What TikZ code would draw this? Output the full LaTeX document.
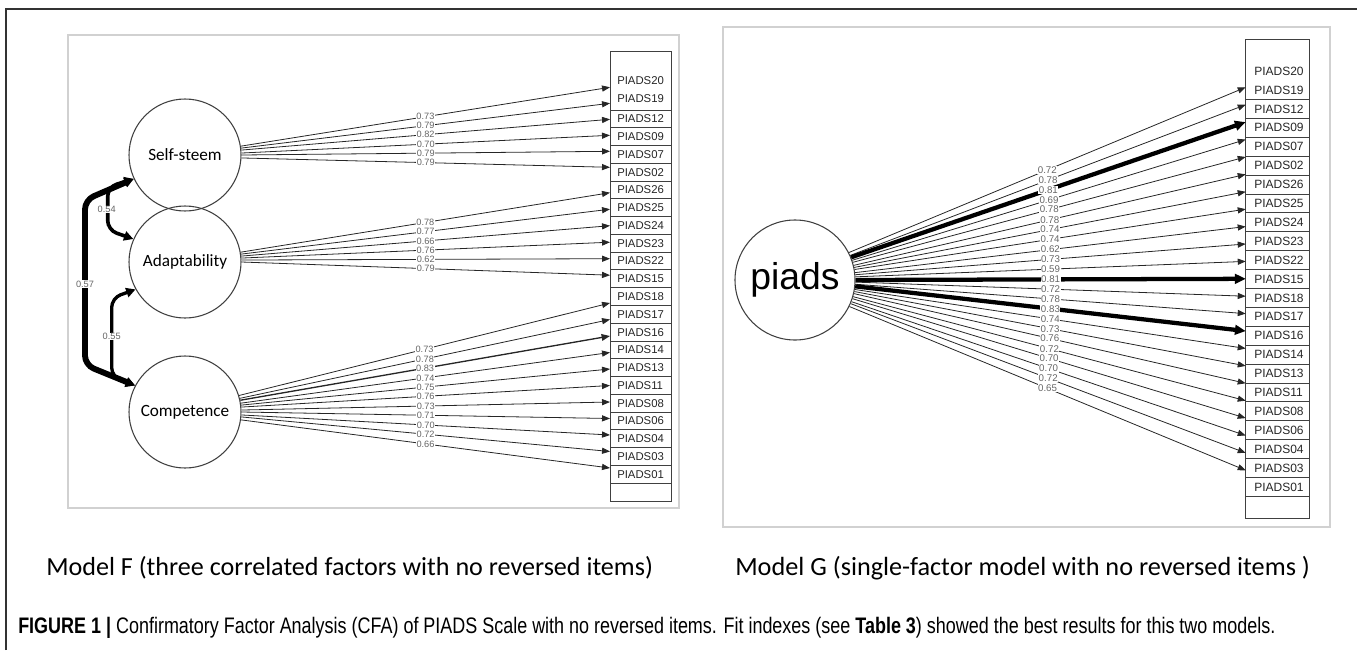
\documentclass[tikz,border=0pt]{standalone}
\usepackage{fontspec}
\usepackage{graphicx}
\setmainfont{Liberation Sans}
\newfontfamily\calib{Carlito}
\newfontfamily\capfont[FakeStretch=0.8]{Liberation Sans}
\usetikzlibrary{arrows.meta,calc}
\begin{document}
\begin{tikzpicture}[x=0.75pt,y=-0.75pt,
  lat/.style={circle,draw=black!75,line width=0.8pt,minimum size=84pt,inner sep=0pt,font=\calib\fontsize{12.9}{14}\selectfont},
  cellL/.style={rectangle,draw=black!75,line width=0.7pt,minimum width=45.75pt,minimum height=13.33pt,inner sep=0pt},
  cellR/.style={rectangle,draw=black!75,line width=0.7pt,minimum width=47.5pt,minimum height=14.18pt,inner sep=0pt},
  itemL/.style={anchor=west,inner sep=0pt,text=black!85,font=\fontsize{8.5}{9}\selectfont},
  itemR/.style={anchor=west,inner sep=0pt,text=black!85,font=\fontsize{9}{10}\selectfont},
  load/.style={draw=black!85,line width=0.6pt,-{Triangle[length=5.5pt 0.8,width=4pt 1]}},
  labL/.style={fill=white,inner sep=0.4pt,text=black!60,font=\fontsize{6.9}{7}\selectfont},
  labR/.style={fill=white,inner sep=0.4pt,text=black!60,font=\fontsize{7.3}{7.5}\selectfont},
  cov/.style={draw=black,rounded corners=7pt,{Triangle[length=7pt,width=7pt]}-{Triangle[length=7pt,width=7pt]}},
  panel/.style={draw=black!18,line width=0.8pt},
  plain/.style={inner sep=0pt}
]
\useasboundingbox (0,0) rectangle (1357,650);
% outer frame (left and top)
\draw[draw=black!80,line width=1pt] (6,650) -- (6,9) -- (1357,9);
% panels
\draw[panel] (68,35) rectangle (679,508);
\draw[panel] (723,27) rectangle (1330,527);

% ---------------- Model F ----------------
\node[lat] (ss) at (185,155) {Self-steem};
\node[lat] (ad) at (185,262) {Adaptability};
\node[lat] (co) at (185,412) {Competence};

% item column left
\node[cellL,minimum height=44.25pt] (Ltop) at (640.5,80.5) {};
\node[itemL] (L20) at (617,81) {PIADS20};
\node[itemL] (L19) at (617,99) {PIADS19};
\foreach \t [count=\k from 0] in {12,09,07,02,26,25,24,23,22,15,18,17,16,14,13,11,08,06,04,03,01} {
  \pgfmathsetmacro\yc{110+17.77*(\k+0.5)}
  \node[cellL] (Lc\t) at (640.5,\yc) {};
  \node[itemL] (L\t) at (617,\yc) {PIADS\t};
}
\node[cellL] (Lempty) at (640.5,492.1) {};

% loadings Self-steem
\foreach \v [count=\i from 0] in {0.73,0.79,0.82,0.70,0.79,0.79} {
  \pgfmathtruncatemacro\ang{mod(round(asin((9-2.3*\i)/56))+360,360)}
  \pgfmathsetmacro\ye{87.3+16*\i}
  \coordinate (sE\i) at (610,\ye);
  \draw[load] (ss.\ang) -- node[labL]{\v} (sE\i);
}
% loadings Adaptability
\foreach \v [count=\i from 0] in {0.78,0.77,0.66,0.76,0.62,0.79} {
  \pgfmathtruncatemacro\ang{mod(round(asin((9.3-1.8*\i)/56))+360,360)}
  \pgfmathsetmacro\ye{192.7+16.5*\i}
  \coordinate (aE\i) at (610,\ye);
  \draw[load] (ad.\ang) -- node[labL]{\v} (aE\i);
}
% loadings Competence
\foreach \v [count=\i from 0] in {0.73,0.78,0.83,0.74,0.75,0.76,0.73,0.71,0.70,0.72,0.66} {
  \pgfmathtruncatemacro\ang{mod(round(asin((16.4-2.4*\i)/56))+360,360)}
  \pgfmathsetmacro\ye{303+16.5*\i}
  \pgfmathsetmacro\lw{(\i==2)?1.0:0.6}
  \coordinate (cE\i) at (610,\ye);
  \draw[load,line width=\lw pt] (co.\ang) -- node[labL]{\v} (cE\i);
}

% covariances
\coordinate (k57a) at (85,200);
\coordinate (k57b) at (85,365);
\coordinate (k54a) at (107.7,187);
\coordinate (k54b) at (107.7,230);
\coordinate (k55a) at (111.7,298);
\coordinate (k55b) at (111.7,377);
\draw[cov,line width=4.4pt] (ss.205) -- (k57a) -- (k57b) -- (co.152);
\draw[cov,line width=2.7pt] (ss.205) -- (k54a) -- (k54b) -- (ad.156);
\draw[cov,line width=2.5pt] (ad.209) -- (k55a) -- (k55b) -- (co.152);
\node[labL] (c57) at (85,284) {0.57};
\node[labL] (c54) at (106.7,209.3) {0.54};
\node[labL] (c55) at (111.7,336.7) {0.55};

% ---------------- Model G ----------------
\node[circle,draw=black!75,line width=0.8pt,minimum size=90pt,inner sep=0pt,font=\fontsize{28}{30}\selectfont] (piads) at (795,280) {piads};

\node[cellR,minimum height=45.15pt] (Rtop) at (1277.35,69.4) {};
\node[itemR] (R20) at (1254,71.7) {PIADS20};
\node[itemR] (R19) at (1254,90) {PIADS19};
\foreach \t [count=\k from 0] in {12,09,07,02,26,25,24,23,22,15,18,17,16,14,13,11,08,06,04,03,01} {
  \pgfmathsetmacro\yc{99.5+18.9*(\k+0.5)}
  \node[cellR] (Rc\t) at (1277.35,\yc) {};
  \node[itemR] (R\t) at (1254,\yc) {PIADS\t};
}
\node[cellR,minimum height=16.2pt] (Rempty) at (1277.35,507.2) {};

\foreach \v [count=\i from 0] in {0.72,0.78,0.81,0.69,0.78,0.78,0.74,0.74,0.62,0.73,0.59,0.81,0.72,0.78,0.83,0.74,0.73,0.76,0.72,0.70,0.70,0.72,0.65} {
  \pgfmathtruncatemacro\ang{mod(round(asin((27-2.41*\i)/60))+360,360)}
  \pgfmathsetmacro\ye{87.3+17.41*\i}
  \pgfmathtruncatemacro\thick{(\i==2||\i==11||\i==14)?1:0}
  \coordinate (gE\i) at (1245.7,\ye);
  \ifnum\thick=1
    \draw[load,draw=black,line width=3.2pt] (piads.\ang) -- node[labR]{\v} (gE\i);
  \else
    \draw[load] (piads.\ang) -- node[labR]{\v} (gE\i);
  \fi
}

% captions
\node[plain,anchor=west] (capF) at (46,568) {\resizebox{455pt}{!}{\calib Model F (three correlated factors with no reversed items)}};
\node[plain,anchor=west] (capG) at (735,568) {\resizebox{431pt}{!}{\calib Model G (single-factor model with no reversed items )}};
\node[plain,anchor=west] (fig) at (18,628) {\resizebox{942.75pt}{!}{\capfont\textbf{FIGURE 1} {\bfseries|} Confirmatory Factor Analysis (CFA) of PIADS Scale with no reversed items. Fit indexes (see \textbf{Table 3}) showed the best results for this two models.}};
\end{tikzpicture}
\end{document}
